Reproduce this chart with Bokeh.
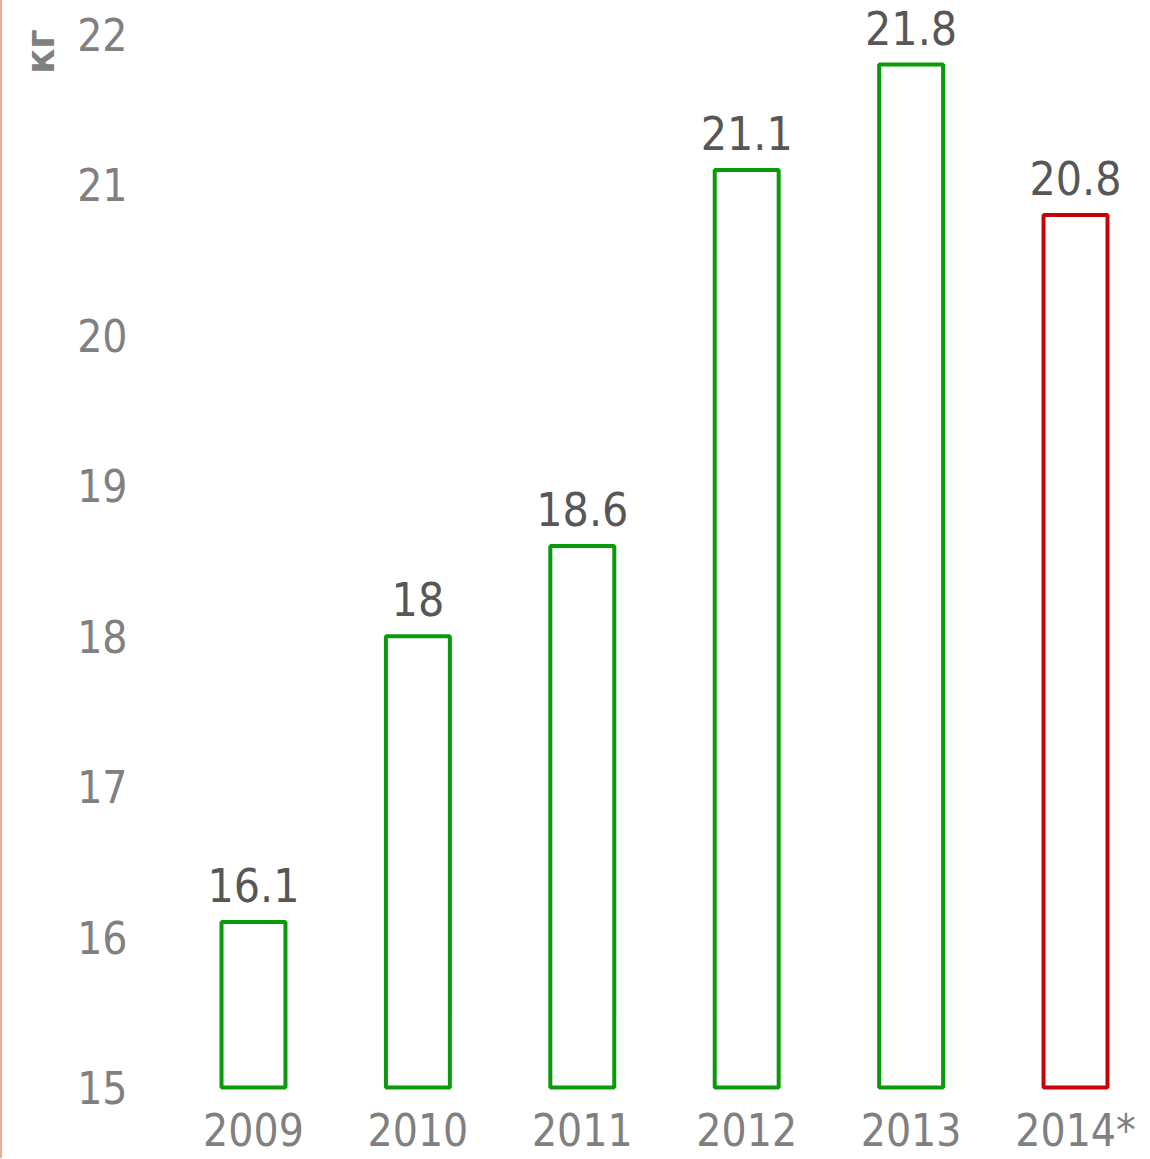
from bokeh.plotting import figure
from bokeh.models import Range1d, FixedTicker, ColumnDataSource, LabelSet, Title
from bokeh.embed import file_html
from bokeh.resources import INLINE
from bokeh.core.properties import value

# ---- data ----
years = ["2009", "2010", "2011", "2012", "2013", "2014*"]
values = [16.1, 18.0, 18.6, 21.1, 21.8, 20.8]
value_labels = ["16.1", "18", "18.6", "21.1", "21.8", "20.8"]
y_ticks = [15, 16, 17, 18, 19, 20, 21, 22]
unit_label = "кг"

# ---- styles ----
GREEN = "#0a9a0a"
RED = "#c8000a"
TICK_COLOR = "#808080"
LABEL_COLOR = "#575757"
FONT = "DejaVu Sans Condensed"
colors = [RED if y.endswith("*") else GREEN for y in years]
xs = list(range(len(years)))

src = ColumnDataSource(dict(x=xs, top=values, lab=value_labels, color=colors))

p = figure(frame_width=1008, frame_height=1092,
           x_range=Range1d(-0.675, 5.456), y_range=Range1d(14.9668, 22.226),
           output_backend="svg", toolbar_location=None,
           min_border_left=140, min_border_right=0, min_border_top=0, min_border_bottom=0)
p.styles = {"border-left": "2px solid #f6a995"}
p.outline_line_color = None
p.grid.visible = False
p.background_fill_color = "white"
p.border_fill_color = "white"

p.vbar(x="x", top="top", bottom=y_ticks[0], width=0.389, source=src,
       fill_color="white", line_color="color", line_width=4)

labels = LabelSet(x="x", y="top", text="lab", source=src, y_offset=20,
                  text_align="center", text_baseline="alphabetic",
                  text_font=value(FONT), text_font_size="46px",
                  text_color=LABEL_COLOR)
p.add_layout(labels)

for ax in (p.xaxis[0], p.yaxis[0]):
    ax.axis_line_color = None
    ax.major_tick_line_color = None
    ax.minor_tick_line_color = None
    ax.major_label_text_font = FONT
    ax.major_label_text_font_size = "44px"
    ax.major_label_text_color = TICK_COLOR

p.xaxis.ticker = FixedTicker(ticks=xs)
p.xaxis.major_label_overrides = {i: y for i, y in zip(xs, years)}
p.xaxis.major_label_standoff = 6
p.yaxis.ticker = FixedTicker(ticks=y_ticks)
p.yaxis.major_label_standoff = 9

p.add_layout(Title(text=unit_label, align="right", offset=29, standoff=22,
                   text_font=FONT, text_font_size="41px",
                   text_font_style="bold", text_color=TICK_COLOR), "left")

open("out.html", "w").write(file_html(p, INLINE))
